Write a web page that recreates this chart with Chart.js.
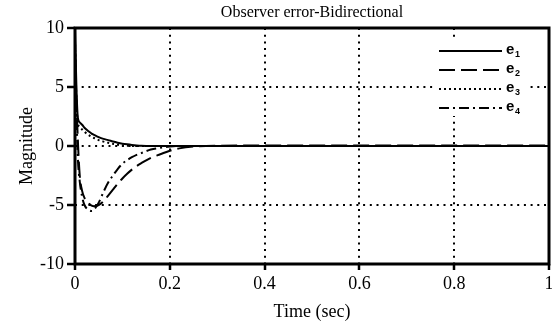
<!DOCTYPE html>
<html>
<head>
<meta charset="utf-8">
<script src="https://cdn.jsdelivr.net/npm/chart.js@4/dist/chart.umd.min.js"></script>
<style>
html,body{margin:0;padding:0;background:#fff;}
#wrap{width:552px;height:324px;}
</style>
</head>
<body>
<div id="wrap"><canvas id="c" width="552" height="324"></canvas></div>
<script>
const chartTitle = 'Observer error-Bidirectional';
const xTitle = 'Time (sec)';
const yTitle = 'Magnitude';
const xTicks = [0, 0.2, 0.4, 0.6, 0.8, 1];
const yTicks = [-10, -5, 0, 5, 10];
const seriesNames = ['1', '2', '3', '4'];

const times = [0, 0.003, 0.006, 0.01, 0.015, 0.02, 0.03, 0.035, 0.04, 0.05, 0.06, 0.07, 0.08, 0.09, 0.1, 0.11, 0.12, 0.13, 0.14, 0.16, 0.18, 0.2, 0.22, 0.25, 0.3, 0.4, 0.5, 0.6, 0.7, 0.8, 0.9, 1.0];
const e1 = [9.8, 5.0, 2.4, 2.0, 1.8, 1.55, 1.2, 1.05, 0.95, 0.75, 0.6, 0.5, 0.38, 0.28, 0.2, 0.14, 0.09, 0.05, 0.02, 0, 0, 0, 0, 0, 0, 0, 0, 0, 0, 0, 0, 0];
const e2 = [8.0, 4.0, 0.5, -2.5, -3.8, -4.4, -4.9, -5.05, -5.1, -5.0, -4.7, -4.2, -3.7, -3.2, -2.75, -2.35, -2.0, -1.7, -1.45, -1.0, -0.7, -0.4, -0.2, -0.05, 0.02, 0.04, 0.04, 0.04, 0.04, 0.04, 0.04, 0.04];
const e3 = [9.0, 4.0, 2.0, 1.6, 1.4, 1.2, 0.9, 0.78, 0.68, 0.5, 0.37, 0.27, 0.18, 0.1, 0.05, 0.02, 0, 0, 0, 0, 0, 0, 0, 0, 0, 0, 0, 0, 0, 0, 0, 0];
const e4 = [9.0, 3.0, -1.0, -3.0, -4.3, -5.0, -5.45, -5.5, -5.4, -4.8, -3.9, -3.1, -2.5, -1.95, -1.5, -1.2, -0.95, -0.75, -0.6, -0.3, -0.15, -0.05, 0, 0, 0, 0, 0, 0, 0, 0, 0, 0];

const styles = [
  {dash: []},
  {dash: [16, 6]},
  {dash: [2, 3]},
  {dash: [10, 4, 2, 4]}
];
const allSeries = [e1, e2, e3, e4];

const datasets = allSeries.map((s, i) => ({
  label: 'e' + seriesNames[i],
  data: times.map((t, k) => ({x: t, y: s[k]})),
  borderColor: '#000',
  borderWidth: 2,
  borderDash: styles[i].dash,
  pointRadius: 0,
  fill: false,
  cubicInterpolationMode: 'monotone'
}));

const serif = "'Liberation Serif', 'Times New Roman', serif";

const decor = {
  id: 'decor',
  afterDatasetsDraw(chart) {
    const ctx = chart.ctx;
    const a = chart.chartArea;
    ctx.save();
    // frame
    ctx.strokeStyle = '#000';
    ctx.lineWidth = 3;
    ctx.setLineDash([]);
    ctx.strokeRect(a.left, a.top, a.right - a.left, a.bottom - a.top);
    // legend
    const bx = 436, by = 37, bw = 90, bh = 79;
    ctx.fillStyle = '#fff';
    ctx.fillRect(bx, by, bw, bh);
    const rows = [51, 70, 89, 108];
    rows.forEach((ry, i) => {
      ctx.beginPath();
      ctx.setLineDash(styles[i].dash);
      ctx.lineWidth = 2;
      ctx.strokeStyle = '#000';
      ctx.moveTo(439, ry);
      ctx.lineTo(502, ry);
      ctx.stroke();
      ctx.setLineDash([]);
      ctx.fillStyle = '#000';
      ctx.textBaseline = 'alphabetic';
      ctx.textAlign = 'left';
      ctx.font = "bold 15px 'Liberation Sans', Arial, sans-serif";
      ctx.fillText('e', 506, ry + 3);
      ctx.font = "bold 9px 'Liberation Sans', Arial, sans-serif";
      ctx.fillText(seriesNames[i], 515, ry + 6);
    });
    // title
    ctx.fillStyle = '#000';
    ctx.font = '16px ' + serif;
    ctx.textAlign = 'center';
    ctx.textBaseline = 'middle';
    ctx.fillText(chartTitle, (a.left + a.right) / 2, 13);
    ctx.restore();
  }
};

const gridColor = (ctx) => {
  const v = ctx.tick ? ctx.tick.value : null;
  const sc = ctx.scale;
  if (v === sc.min || v === sc.max) return 'rgba(0,0,0,0)';
  return '#000';
};

new Chart(document.getElementById('c'), {
  type: 'line',
  data: {datasets},
  options: {
    responsive: false,
    animation: false,
    devicePixelRatio: 1,
    layout: {padding: {top: 28, right: 3, left: 0, bottom: 0}},
    plugins: {
      legend: {display: false},
      title: {display: false},
      tooltip: {enabled: false}
    },
    scales: {
      x: {
        type: 'linear',
        min: 0, max: 1,
        afterBuildTicks: (s) => { s.ticks = xTicks.map(v => ({value: v})); },
        ticks: {
          color: '#000',
          font: {family: serif, size: 18},
          padding: 3,
          maxRotation: 0,
          callback: (v) => String(v)
        },
        grid: {
          color: gridColor,
          lineWidth: 2,
          tickColor: '#000',
          tickLength: 6,
          tickWidth: 2.5
        },
        border: {display: false, dash: [2, 4.7]},
        title: {display: true, text: xTitle, color: '#000', font: {family: serif, size: 18}, padding: {top: 0, bottom: 1}},
        afterFit: (s) => { s.height = 60; s.paddingLeft = 0; s.paddingRight = 0; }
      },
      y: {
        type: 'linear',
        min: -10, max: 10,
        afterBuildTicks: (s) => { s.ticks = yTicks.map(v => ({value: v})); },
        ticks: {
          color: '#000',
          font: {family: serif, size: 18},
          padding: 3,
          callback: (v) => String(v)
        },
        grid: {
          color: gridColor,
          lineWidth: 2,
          tickColor: '#000',
          tickLength: 8,
          tickWidth: 2.5
        },
        border: {display: false, dash: [2, 4.7]},
        title: {display: true, text: yTitle, color: '#000', font: {family: serif, size: 18}, padding: {top: 16, bottom: 0}},
        afterFit: (s) => { s.width = 75; s.paddingTop = 0; s.paddingBottom = 0; }
      }
    }
  },
  plugins: [decor]
});
</script>
</body>
</html>
